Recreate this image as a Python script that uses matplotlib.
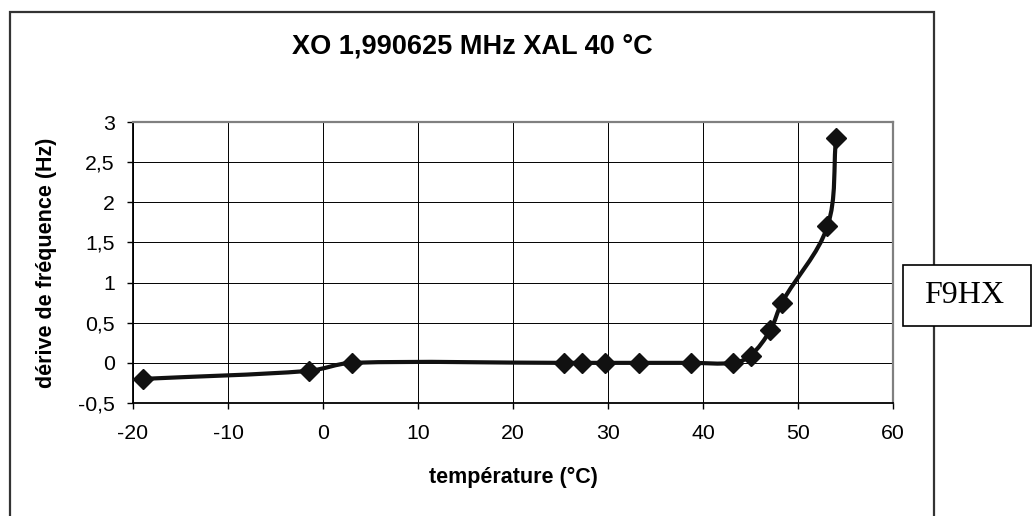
import matplotlib
matplotlib.use('Agg')
import math
import matplotlib.pyplot as plt
from matplotlib.path import Path
from matplotlib.patches import PathPatch, Rectangle
from matplotlib.ticker import MultipleLocator, FuncFormatter

temperature = [-19, -1.5, 3, 25.4, 27.3, 29.7, 33.3, 38.7, 43.2, 45.0, 47.1, 48.3, 53.1, 54.0]
drift = [-0.2, -0.1, 0, 0, 0, 0, 0, 0, 0, 0.09, 0.41, 0.75, 1.7, 2.8]

title = 'XO 1,990625 MHz XAL 40 °C'
xlabel = 'température (°C)'
ylabel = 'dérive de fréquence (Hz)'
note = 'F9HX'

plt.rcParams['font.family'] = ['Liberation Sans', 'DejaVu Sans']

W, H = 1033, 516
AX_L, AX_R, AX_T, AX_B = 133, 893, 122, 403
XLIM, YLIM = (-20, 60), (-0.5, 3)


def smooth_path(xs, ys):
    # courbe lissée façon tableur : tangentes de catmull-rom,
    # poignées limitées au tiers de chaque segment (calcul en pixels)
    kx = (AX_R - AX_L) / (XLIM[1] - XLIM[0])
    ky = (AX_B - AX_T) / (YLIM[1] - YLIM[0])
    pts = [(x * kx, y * ky) for x, y in zip(xs, ys)]
    n = len(pts)

    def handle(a, b, length):
        dx, dy = b[0] - a[0], b[1] - a[1]
        d = math.hypot(dx, dy) or 1
        return dx / d * length, dy / d * length

    verts = [pts[0]]
    codes = [Path.MOVETO]
    for i in range(n - 1):
        p0 = pts[max(i - 1, 0)]
        p1 = pts[i]
        p2 = pts[i + 1]
        p3 = pts[min(i + 2, n - 1)]
        L = math.hypot(p2[0] - p1[0], p2[1] - p1[1]) / 3
        h1 = handle(p0, p2, L)
        h2 = handle(p1, p3, L)
        verts += [(p1[0] + h1[0], p1[1] + h1[1]), (p2[0] - h2[0], p2[1] - h2[1]), p2]
        codes += [Path.CURVE4] * 3
    verts = [(x / kx, y / ky) for x, y in verts]
    return Path(verts, codes)


fig = plt.figure(figsize=(W / 100, H / 100), dpi=100)

# cadre du graphique
fig.patches.append(Rectangle((10 / W, -0.05), 924 / W, 1.05 - 12 / H, transform=fig.transFigure,
                             fill=False, edgecolor='#333333', lw=1.6))

ax = fig.add_axes([AX_L / W, (H - AX_B) / H, (AX_R - AX_L) / W, (AX_B - AX_T) / H])
ax.set_xlim(*XLIM)
ax.set_ylim(*YLIM)
ax.xaxis.set_major_locator(MultipleLocator(10))
ax.yaxis.set_major_locator(MultipleLocator(0.5))
comma = FuncFormatter(lambda v, p: f'{v:g}'.replace('.', ','))
ax.xaxis.set_major_formatter(comma)
ax.yaxis.set_major_formatter(comma)
ax.grid(True, color='black', lw=0.7)
ax.set_axisbelow(True)
ax.tick_params(direction='out', length=4.5, width=1, labelsize=15.3, colors='black')
ax.tick_params(axis='x', pad=10.5)
ax.tick_params(axis='y', pad=8.5)
for s in ['top', 'right']:
    ax.spines[s].set_color('#808080')
    ax.spines[s].set_linewidth(1.6)
for s in ['left', 'bottom']:
    ax.spines[s].set_color('black')
    ax.spines[s].set_linewidth(1.3)

ax.add_patch(PathPatch(smooth_path(temperature, drift), facecolor='none', edgecolor='#111111',
                       lw=3, capstyle='round', joinstyle='round', zorder=3))
ax.plot(temperature, drift, linestyle='none', marker='D', ms=10, color='#111111', zorder=4)

ax.set_xlabel(xlabel, fontsize=15.5, fontweight='bold')
ax.set_ylabel(ylabel, fontsize=15.5, fontweight='bold')
ax.xaxis.set_label_coords(0.5, (AX_B - 467) / (AX_B - AX_T))
ax.yaxis.set_label_coords((57 - AX_L) / (AX_R - AX_L), 0.5)

fig.text(472 / W, 1 - 46 / H, title, ha='center', va='center', fontsize=19.5, fontweight='bold')

# encadré F9HX
fig.patches.append(Rectangle((903 / W, 1 - 326 / H), 128 / W, 61 / H, transform=fig.transFigure,
                             facecolor='white', edgecolor='black', lw=1.2, zorder=5))
fig.text(964 / W, 1 - 295.5 / H, note, ha='center', va='center', fontsize=23,
         family=['Liberation Serif', 'DejaVu Serif'], zorder=6)

fig.savefig('out.png', dpi=100)
